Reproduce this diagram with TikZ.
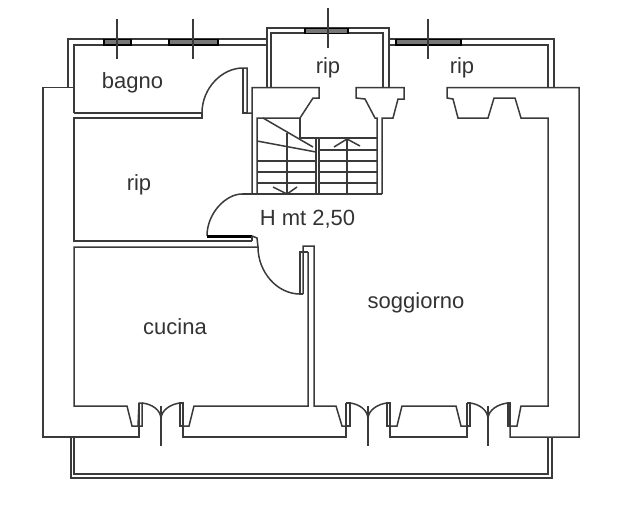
\documentclass[tikz,border=0pt]{standalone}
\usepackage{fontspec}
\setmainfont{Liberation Sans}
\definecolor{wallc}{HTML}{3A3A3A}
\definecolor{glassc}{HTML}{777777}
\definecolor{textc}{HTML}{333333}
\tikzset{
  wall/.style={draw=wallc,line width=1.5pt,line join=miter},
  tick/.style={draw=wallc,line width=1.4pt},
  glass/.style={draw=black,fill=glassc,line width=1.3pt},
  label/.style={text=textc,font=\fontsize{22}{24}\selectfont,inner sep=0pt}
}
\begin{document}
\begin{tikzpicture}[x=1pt,y=-1pt]
\useasboundingbox (0,0) rectangle (644,509);
% outer building shell
\draw[wall] (74,87.5) -- (43,87.5) -- (43,437) -- (139,437) -- (139,403);
\draw[wall] (183,403) -- (183,437) -- (346,437) -- (346,403);
\draw[wall] (390,403) -- (390,437) -- (467,437) -- (467,403);
\draw[wall] (510,403) -- (510,437) -- (579,437) -- (579,87.5) -- (447,87.5) -- (447,98) -- (453,99) -- (458,118) -- (488,118) -- (494,98) -- (515,98) -- (521,118) -- (548,118) -- (548,406) -- (521,406) -- (517,426) -- (510,426);
% top left: bagno
\draw[wall] (68,87.5) -- (68,39) -- (267,39);
\draw[wall] (74,113) -- (74,45) -- (267,45);
\draw[wall] (74,113) -- (202,113) -- (202,118) -- (74,118) -- (74,241) -- (252,241);
\draw[wall] (202,113) .. controls (202,88) and (222,68) .. (243,68) -- (247,68) -- (247,113) -- (252,113);
\draw[wall] (243,68) -- (243,113) -- (247,113);
% central rip
\draw[wall] (267,87.5) -- (267,28) -- (389,28) -- (389,87.5);
\draw[wall] (271,87.5) -- (271,33) -- (383,33) -- (383,87.5);
% right rip
\draw[wall] (389,39) -- (554,39) -- (554,87.5);
\draw[wall] (389,45) -- (548,45) -- (548,87.5);
% stair head blocks
\draw[wall] (252,194) -- (252,87.5) -- (319,87.5) -- (319,98) -- (313,98) -- (300,118) -- (257,118) -- (257,194);
\draw[wall] (377,194) -- (377,118) -- (375,118) -- (365,99) -- (356,98) -- (356,87.5) -- (404,87.5) -- (404,99) -- (398,99) -- (393,118) -- (382,118) -- (382,194);
% stairs
\draw[wall] (242,194) -- (382,194);
\draw[wall] (300,118) -- (300,138) -- (377,138);
\draw[wall] (316,139) -- (316,194);
\draw[wall] (319,139) -- (319,194);
\foreach \yy in {150} \draw[wall] (319,\yy) -- (377,\yy);
\foreach \yy in {161,172,183} {\draw[wall] (257,\yy) -- (316,\yy); \draw[wall] (319,\yy) -- (377,\yy);}
\draw[wall] (263,118) -- (313,147);
\draw[wall] (257,141) -- (316,152);
\draw[wall] (287,133) -- (287,194);
\draw[wall] (347,139) -- (347,194);
\draw[wall] (273,187) -- (287,194) -- (297,187);
\draw[wall] (334,147) -- (347,139) -- (360,146);
% door to rip / landing
\draw[wall] (242,194) .. controls (226,194) and (207,213) .. (207,236);
\draw[draw=black,line width=2.2pt] (207,236.5) -- (252,236.5);
\draw[wall] (252,236) -- (252,241);
\draw[wall] (252,236) -- (257,238) -- (258,247) -- (74,247) -- (74,406) -- (127,406) -- (132,426) -- (138,426);
\draw[wall] (258,247) .. controls (258,272) and (277,294) .. (300,294);
\draw[wall] (303,294) -- (300,294) -- (300,252) -- (308,252);
\draw[wall] (303,294) -- (303,246) -- (314,246) -- (314,406) -- (336,406) -- (342,426) -- (346,426);
\draw[wall] (308,252) -- (308,406) -- (194,406) -- (189,426) -- (183,426);
% french windows, bottom
\draw[wall] (139,403) -- (142,403) -- (142,426) -- (138,426) -- cycle;
\draw[wall] (180,403) -- (183,403) -- (183,426) -- (180,426) -- cycle;
\draw[wall] (142,403) .. controls (152,404) and (161,410) .. (161,419);
\draw[wall] (180,403) .. controls (171,404) and (161,410) .. (161,419);
\draw[tick] (161,406) -- (161,446);
\draw[wall] (346,403) -- (350,403) -- (350,426) -- (346,426);
\draw[wall] (387,403) -- (390,403) -- (390,426) -- (387,426) -- cycle;
\draw[wall] (350,403) .. controls (359,404) and (368,410) .. (368,419);
\draw[wall] (387,403) .. controls (378,404) and (368,410) .. (368,419);
\draw[tick] (368,406) -- (368,446);
\draw[wall] (390,426) -- (397,426) -- (402,406) -- (456,406) -- (461,426) -- (467,426);
\draw[wall] (467,403) -- (470,403) -- (470,426) -- (467,426);
\draw[wall] (508,403) -- (510,403) -- (510,426) -- (508,426) -- cycle;
\draw[wall] (470,403) .. controls (479,404) and (488,410) .. (488,419);
\draw[wall] (508,403) .. controls (498,404) and (488,410) .. (488,419);
\draw[tick] (488,406) -- (488,446);
% balcony
\draw[wall] (71,437) -- (71,478) -- (552,478) -- (552,437);
\draw[wall] (74,437) -- (74,474) -- (548,474) -- (548,437);
% top windows
\draw[glass] (104,39.5) rectangle (131,45);
\draw[glass] (169,39.5) rectangle (218,45);
\draw[glass] (305,28.5) rectangle (348,33.5);
\draw[glass] (396,39.5) rectangle (461,45);
\draw[tick] (117,19) -- (117,59);
\draw[tick] (193,19) -- (193,59);
\draw[tick] (328,8) -- (328,48);
\draw[tick] (428,19) -- (428,59);
% labels
\node[label] (bagno) at (132.5,83) {bagno};
\node[label] (ripa) at (328,67.5) {rip};
\node[label] (ripb) at (462,67.5) {rip};
\node[label] (ripc) at (139,184.5) {rip};
\node[label] (hmt) at (307.5,219.5) {H mt 2,50};
\node[label] (sogg) at (416,302.5) {soggiorno};
\node[label] (cuc) at (175,327) {cucina};
\end{tikzpicture}
\end{document}
